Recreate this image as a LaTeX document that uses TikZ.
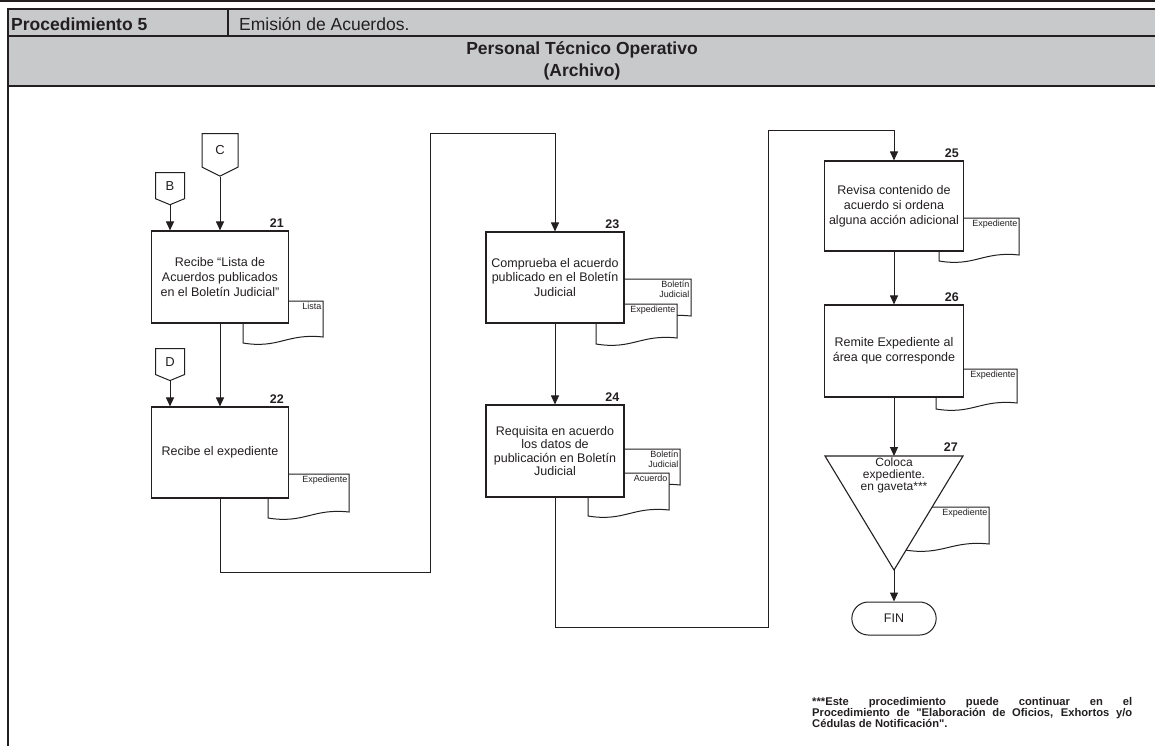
\documentclass[tikz,border=0pt]{standalone}
\usepackage{fontspec}
\setmainfont{Liberation Sans}
\newfontfamily\notafont{Liberation Sans}[Ligatures=TeXOff]
\usetikzlibrary{arrows.meta,positioning,shapes.symbols,shapes.misc}

\definecolor{hdrgray}{RGB}{200,201,203}
\definecolor{ink}{RGB}{35,31,32}

\tikzset{
  frame/.style={draw=ink, line width=1.3pt},
  hdr/.style={text=ink, inner sep=0pt, font=\fontsize{17.5}{21}\selectfont},
  hdrb/.style={text=ink, inner sep=0pt, font=\fontsize{17.5}{21.5}\selectfont\bfseries},
  box/.style={draw=ink, line width=1.1pt, fill=white, text=ink, align=center,
    inner sep=0pt, minimum width=137pt, minimum height=92pt,
    font=\fontsize{12.5}{14.8}\selectfont},
  docline/.style={draw=ink, line width=1pt, fill=white},
  doclbl/.style={text=ink, align=right, inner sep=1.5pt,
    font=\fontsize{9}{10.5}\selectfont},
  stepnum/.style={text=ink, inner sep=0pt, font=\fontsize{12.5}{14}\selectfont\bfseries},
  offpage/.style={draw=ink, line width=1pt, fill=white, signal, signal to=south,
    signal from=nowhere, inner sep=0pt, text=ink, font=\fontsize{13}{13}\selectfont},
  term/.style={draw=ink, line width=1pt, rounded rectangle, minimum width=91pt,
    minimum height=33pt, text=ink, font=\fontsize{12.5}{14}\selectfont},
  link/.style={draw=ink, line width=1pt},
  nota/.style={text=ink, align=left, inner sep=0pt,
    font=\notafont\fontsize{11.2}{11}\selectfont\bfseries}
}

% documento: nombre, x, y, ancho, alto, texto
\newcommand{\docu}[6]{%
  \draw[docline] (#2,#3) -- (#2+#4,#3) -- (#2+#4,#3+#5)
    .. controls (#2+0.55*#4,#3+#5-4) and (#2+0.45*#4,#3+#5+12) .. (#2,#3+#5+6) -- cycle;
  \node[doclbl, anchor=north east] (#1) at (#2+#4,#3) {#6};}

\begin{document}
\begin{tikzpicture}[x=1pt, y=-1pt, >={Triangle[width=8pt,length=9pt]}]
  \useasboundingbox (0,0) rectangle (1155,745);
  % encabezado
  \draw[line width=2pt, ink] (0,1) -- (1155,1);
  \draw[frame, fill=hdrgray] (8,9) rectangle (1158,36);
  \draw[frame, fill=hdrgray] (8,36) rectangle (1158,86);
  \draw[frame] (228,9) -- (228,36);
  \draw[frame] (8,86) -- (8,748);
  \node[hdrb, anchor=base west] (proc) at (11,30) {Procedimiento 5};
  \node[hdr, anchor=base west] (nomb) at (239,30) {Emisión de Acuerdos.};
  \node[hdrb, align=center] (area) at (582,61) {Personal Técnico Operativo\\(Archivo)};

  % documentos
  \docu{l21}{243}{301}{80}{36}{Lista}
  \docu{l22}{268}{474}{81}{38}{Expediente}
  \docu{l23a}{600}{279}{91}{37}{Boletín\\Judicial}
  \docu{l23b}{596}{304}{81}{34}{Expediente}
  \docu{l24a}{600}{449}{80}{36}{Boletín\\Judicial}
  \docu{l24b}{588}{473}{81}{37}{Acuerdo}
  \docu{l25}{939}{218}{80}{37}{Expediente}
  \docu{l26}{936}{369}{81}{34}{Expediente}
  \docu{l27}{905}{507}{84}{37}{Expediente}

  % conectores
  \node[offpage, minimum width=36pt, minimum height=36pt, signal pointer angle=127, anchor=north] (C) at (220,133) {C};
  \node[offpage, minimum width=29pt, minimum height=28pt, signal pointer angle=135, anchor=north] (B) at (170,172) {B};
  \node[offpage, minimum width=29pt, minimum height=28pt, signal pointer angle=135, anchor=north] (D) at (170,348) {D};

  % actividades
  \node[box] (p21) at (220,277) {Recibe “Lista de\\Acuerdos publicados\\en el Boletín Judicial”};
  \node[box, minimum height=91pt] (p22) at (220,452.5) {Recibe el expediente};
  \node[box, minimum width=138pt, minimum height=91pt] (p23) at (555,277.5) {Comprueba el acuerdo\\publicado en el Boletín\\Judicial};
  \node[box, minimum width=138pt, font=\fontsize{12.5}{13.5}\selectfont] (p24) at (555,451) {Requisita en acuerdo\\los datos de\\publicación en Boletín\\Judicial};
  \node[box, minimum width=139pt, minimum height=90pt] (p25) at (894,206) {Revisa contenido de\\acuerdo si ordena\\alguna acción adicional};
  \node[box, minimum width=139pt] (p26) at (894,351) {Remite Expediente al\\área que corresponde};
  \draw[box] (825,456) -- (963,456) -- (894,570) -- cycle;
  \coordinate (t27) at (894,456);
  \coordinate (t27r) at (963,456);
  \coordinate (t27b) at (894,570);
  \node[text=ink, align=center, inner sep=0pt, font=\fontsize{12}{12}\selectfont] (c27) at (894,475) {Coloca\\expediente.\\en gaveta***};
  \node[term] (fin) at (894,618.5) {FIN};

  \node[stepnum, above left=3pt and 5pt of p21.north east] (n21) {21};
  \node[stepnum, above left=3pt and 5pt of p22.north east] (n22) {22};
  \node[stepnum, above left=3pt and 5pt of p23.north east] (n23) {23};
  \node[stepnum, above left=3pt and 5pt of p24.north east] (n24) {24};
  \node[stepnum, above left=3pt and 5pt of p25.north east] (n25) {25};
  \node[stepnum, above left=3pt and 5pt of p26.north east] (n26) {26};
  \node[stepnum, above left=4pt and 5pt of t27r] (n27) {27};

  % flechas
  \draw[link, ->] (C.south) -- (p21.north);
  \draw[link, ->] (B.south) -- (B.south |- p21.north);
  \draw[link, ->] (p21.south) -- (p22.north);
  \draw[link, ->] (D.south) -- (D.south |- p22.north);
  \draw[link, ->] (p22.south) |- (430,572) |- (555,133) -- (p23.north);
  \draw[link, ->] (p23.south) -- (p24.north);
  \draw[link, ->] (p24.south) |- (768,627) |- (894,130) -- (p25.north);
  \draw[link, ->] (p25.south) -- (p26.north);
  \draw[link, ->] (p26.south) -- (t27);
  \draw[link, ->] (t27b) -- (fin.north);

  % nota
  \node[nota, anchor=north west] (nota) at (812,697) {\makebox[320pt][s]{***Este procedimiento puede continuar en el}\\
    \makebox[320pt][s]{Procedimiento de "Elaboración de Oficios, Exhortos y/o}\\
    Cédulas de Notificación".};
\end{tikzpicture}
\end{document}
